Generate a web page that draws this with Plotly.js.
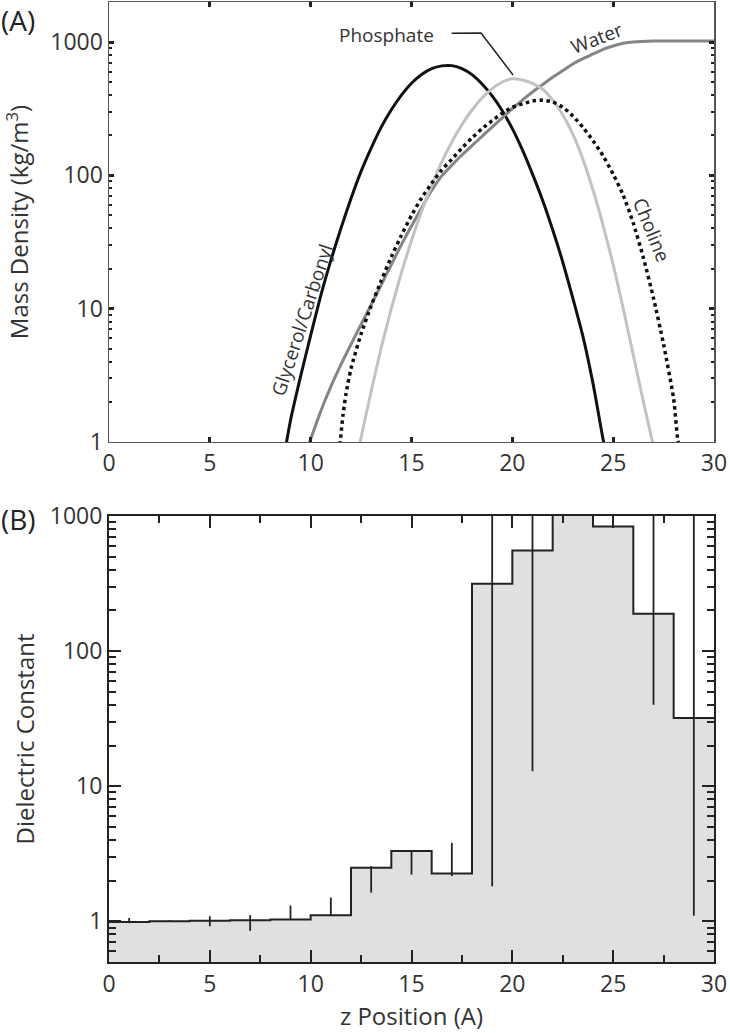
<!DOCTYPE html>
<html>
<head>
<meta charset="utf-8">
<script src="https://cdn.plot.ly/plotly-3.0.1.min.js"></script>
<style>html,body{margin:0;padding:0;background:#fff;}#chart{width:730px;height:1033px;}</style>
</head>
<body>
<div id="chart"></div>
<script>
// ---- Panel A: mass density profiles (z in A, density in kg/m^3) ----
var glycerolZ = [8.75, 9.0, 9.5, 10.0, 10.5, 11.0, 11.5, 12.0, 12.5, 13.0, 13.5, 14.0, 14.5, 15.0, 15.5, 16.0, 16.5, 17.0, 17.5, 18.0, 18.5, 19.0, 19.5, 20.0, 20.5, 21.0, 21.5, 22.0, 22.5, 23.0, 23.5, 24.0, 24.5, 24.6];
var glycerolY = [0.9, 1.45, 3.1, 6.3, 12.5, 23, 40, 67, 107, 160, 230, 310, 400, 490, 570, 631, 662, 665, 631, 569, 484, 394, 305, 224, 155, 102, 65, 39, 22.4, 12, 6.2, 2.75, 1.05, 0.9];

var waterZ = [9.9, 10.5, 11, 11.5, 12, 12.5, 13, 13.5, 14, 14.5, 15, 15.5, 16, 16.5, 17, 17.5, 18, 18.5, 19, 19.5, 20, 20.5, 21, 21.5, 22, 22.5, 23, 23.5, 24, 24.5, 25, 25.5, 26, 27, 28, 30];
var waterY = [0.95, 1.7, 2.6, 3.8, 5.4, 7.6, 10.7, 15.1, 21.4, 30.2, 41.7, 57, 77, 99, 119, 142, 167, 196, 230, 270, 316, 367, 422, 479, 543, 610, 684, 750, 813, 881, 933, 977, 1000, 1016, 1018, 1018];

var phosphateZ = [12.4, 12.5, 13, 13.5, 14, 14.5, 15, 15.5, 16, 16.5, 17, 17.5, 18, 18.5, 19, 19.5, 20, 20.5, 21, 21.5, 22, 22.5, 23, 23.5, 24, 24.5, 25, 25.5, 26, 26.5, 26.95, 27.05];
var phosphateY = [0.92, 1.08, 2.4, 5.1, 10, 18.6, 32.4, 53.7, 84, 126, 178, 240, 309, 380, 447, 501, 530, 519, 490, 442, 367, 285, 204, 132, 77.6, 42.2, 21.4, 10, 4.47, 2.0, 1.0, 0.85];

var cholineZ = [11.45, 11.6, 11.75, 12, 12.5, 13, 13.5, 14, 14.5, 15, 15.5, 16, 16.5, 17, 17.5, 18, 18.5, 19, 19.5, 20, 20.5, 21, 21.5, 22, 22.5, 23, 23.5, 24, 24.5, 25, 25.5, 26, 26.5, 27, 27.5, 28, 28.2, 28.3];
var cholineY = [0.95, 1.58, 2.29, 3.55, 6.46, 10.5, 16.2, 24.5, 35.5, 50.1, 67.6, 87.1, 110, 132, 160, 191, 224, 257, 292, 324, 343, 361, 366, 355, 324, 279, 229, 182, 140, 102, 70.8, 43.7, 24, 12, 5.4, 2.1, 1.05, 0.9];

// ---- Panel B: dielectric constant per 2 A bin ----
var binEdges = [0, 2, 4, 6, 8, 10, 12, 14, 16, 18, 20, 22, 24, 26, 28, 30];
var epsilon = [0.99, 1.0, 1.01, 1.02, 1.03, 1.11, 2.49, 3.31, 2.26, 315, 555, 1150, 835, 189, 32];
var binCenters = [1, 3, 5, 7, 9, 11, 13, 15, 17, 19, 21, 23, 25, 27, 29];
var errUpper = [1.06, 1.02, 1.09, 1.11, 1.31, 1.5, 2.56, 3.31, 3.81, 5000, 5000, 1150, 835, 5000, 5000];
var errLower = [0.97, 0.99, 0.92, 0.85, 1.03, 1.11, 1.63, 2.22, 2.16, 1.82, 12.9, 1150, 835, 40, 1.1];

var xTickVals = [0, 5, 10, 15, 20, 25, 30];
var yTickVals = [1, 10, 100, 1000];
var yTickText = ['1', '10', '100', '1000'];

var stepY = epsilon.concat([epsilon[epsilon.length - 1]]);
var errPlus = errUpper.map(function (u, i) { return u - epsilon[i]; });
var errMinus = errLower.map(function (l, i) { return epsilon[i] - l; });

var FONT = "Open Sans, Lato, sans-serif";
var SM = 0.6;

var traces = [
  {x: glycerolZ, y: glycerolY, xaxis: 'x', yaxis: 'y', mode: 'lines', line: {color: '#111111', width: 3, shape: 'spline', smoothing: SM}, hoverinfo: 'skip'},
  {x: waterZ, y: waterY, xaxis: 'x', yaxis: 'y', mode: 'lines', line: {color: '#858585', width: 3, shape: 'spline', smoothing: SM}, hoverinfo: 'skip'},
  {x: phosphateZ, y: phosphateY, xaxis: 'x', yaxis: 'y', mode: 'lines', line: {color: '#c2c2c2', width: 3, shape: 'spline', smoothing: SM}, hoverinfo: 'skip'},
  {x: cholineZ, y: cholineY, xaxis: 'x', yaxis: 'y', mode: 'lines', line: {color: '#111111', width: 3.5, dash: '3.5px,3.5px', shape: 'spline', smoothing: SM}, hoverinfo: 'skip'},
  {x: binEdges, y: stepY, xaxis: 'x2', yaxis: 'y2', mode: 'lines', fill: 'tozeroy', fillcolor: '#e0e0e0', line: {color: '#222222', width: 2, shape: 'hv'}, hoverinfo: 'skip'},
  {x: binCenters, y: epsilon, xaxis: 'x2', yaxis: 'y2', mode: 'markers', marker: {size: 1, opacity: 0},
   error_y: {type: 'data', symmetric: false, array: errPlus, arrayminus: errMinus, width: 0, thickness: 1.8, color: '#222222'}, hoverinfo: 'skip'}
];

var axisFont = {family: FONT, size: 23, color: '#333333'};
var titleFont = {family: FONT, size: 24, color: '#333333'};
var labelFont = {family: FONT, size: 19, color: '#333333'};

var layout = {
  width: 730, height: 1033,
  margin: {l: 109, r: 16, t: 2, b: 71},
  paper_bgcolor: '#ffffff', plot_bgcolor: '#ffffff',
  showlegend: false,
  font: {family: FONT, color: '#333333'},
  xaxis: {domain: [0, 1], anchor: 'y', range: [0, 30], tickvals: xTickVals, ticks: 'inside', ticklen: 5, tickwidth: 3, tickcolor: '#222',
    showline: true, linecolor: '#555', linewidth: 1.5, mirror: 'ticks', showgrid: false, zeroline: false, tickfont: axisFont},
  yaxis: {domain: [0.5417, 1], anchor: 'x', type: 'log', range: [0, 3.3], tickvals: yTickVals, ticktext: yTickText,
    ticks: 'inside', ticklen: 5, tickwidth: 3, tickcolor: '#222', showline: true, linecolor: '#555', linewidth: 1.5, mirror: 'ticks',
    showgrid: false, zeroline: false, tickfont: axisFont,
    minor: {dtick: 'D1', ticks: 'inside', ticklen: 3, tickwidth: 2, tickcolor: '#222', showgrid: false},
    title: {text: 'Mass Density (kg/m<sup>3</sup>)', font: titleFont, standoff: 17}},
  xaxis2: {domain: [0, 1], anchor: 'y2', range: [0, 30], tickvals: xTickVals, ticks: 'inside', ticklen: 12, tickwidth: 2, tickcolor: '#222',
    showline: true, linecolor: '#222', linewidth: 2, mirror: 'ticks', showgrid: false, zeroline: false, tickfont: axisFont,
    minor: {dtick: 2.5, ticks: 'inside', ticklen: 7, tickwidth: 2, tickcolor: '#222', showgrid: false},
    title: {text: 'z Position (A)', font: titleFont, standoff: 8}},
  yaxis2: {domain: [0, 0.4646], anchor: 'x2', type: 'log', range: [Math.log10(0.5), 3], tickvals: yTickVals, ticktext: yTickText,
    ticks: 'inside', ticklen: 12, tickwidth: 2, tickcolor: '#222', showline: true, linecolor: '#222', linewidth: 2, mirror: 'ticks',
    showgrid: false, zeroline: false, tickfont: axisFont,
    minor: {dtick: 'D1', ticks: 'inside', ticklen: 7, tickwidth: 2, tickcolor: '#222', showgrid: false},
    title: {text: 'Dielectric Constant', font: titleFont, standoff: 8}},
  annotations: [
    {text: '(A)', xref: 'paper', yref: 'paper', x: -0.181, y: 1.003, xanchor: 'left', yanchor: 'top', showarrow: false, font: {family: FONT, size: 28, color: '#222'}},
    {text: '(B)', xref: 'paper', yref: 'paper', x: -0.181, y: 0.483, xanchor: 'left', yanchor: 'top', showarrow: false, font: {family: FONT, size: 28, color: '#222'}},
    {text: 'Phosphate', xref: 'paper', yref: 'paper', x: 0.4595, y: 0.9656, xanchor: 'center', yanchor: 'middle', showarrow: false, font: labelFont},
    {text: 'Water', xref: 'paper', yref: 'paper', x: 0.8066, y: 0.9625, xanchor: 'center', yanchor: 'middle', textangle: -21, showarrow: false, font: labelFont},
    {text: 'Choline', xref: 'paper', yref: 'paper', x: 0.897, y: 0.7625, xanchor: 'center', yanchor: 'middle', textangle: 68, showarrow: false, font: labelFont},
    {text: 'Glycerol/Carbonyl', xref: 'paper', yref: 'paper', x: 0.319, y: 0.6688, xanchor: 'center', yanchor: 'middle', textangle: -72, showarrow: false, font: labelFont}
  ],
  shapes: [
    {type: 'path', xref: 'paper', yref: 'paper', path: 'M 0.5664 0.9674 L 0.6149 0.9677 L 0.6678 0.9240', line: {color: '#222', width: 1.5}}
  ]
};

Plotly.newPlot('chart', traces, layout, {staticPlot: true, displayModeBar: false});
</script>
</body>
</html>
